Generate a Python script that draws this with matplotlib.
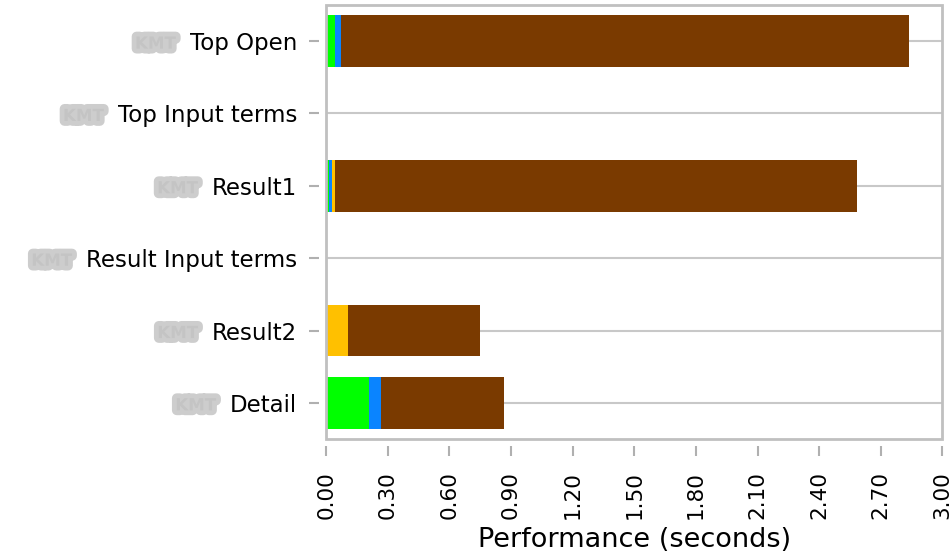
import numpy as np
import matplotlib
matplotlib.use("Agg")
import matplotlib.pyplot as plt
import matplotlib.patheffects as pe

categories = ["Top Open", "Top Input terms", "Result1", "Result Input terms", "Result2", "Detail"]
prefix = "KMT"
green = [0.042, 0, 0.013, 0, 0, 0.209]
blue = [0.030, 0, 0.013, 0, 0, 0.056]
orange = [0, 0, 0.015, 0, 0.106, 0]
brown = [2.765, 0, 2.543, 0, 0.643, 0.602]
xticks = [0.0, 0.3, 0.6, 0.9, 1.2, 1.5, 1.8, 2.1, 2.4, 2.7, 3.0]

fig = plt.figure(figsize=(9.51, 5.55), dpi=100)
ax = fig.add_axes([0.343, 0.209, 0.648, 0.782])

# move ticks off the frame first (this resets tick styling)
for side in ["left", "bottom"]:
    ax.spines[side].set_position(("outward", 5))
for s in ax.spines.values():
    s.set_visible(False)

y = np.arange(len(categories))[::-1]
left = np.zeros(len(categories))
for vals, col in [(green, "#00ff00"), (blue, "#0a84ff"), (orange, "#ffc000"), (brown, "#7a3a00")]:
    vals = np.array(vals)
    ax.barh(y, vals, left=left, height=0.71, color=col, linewidth=0, zorder=3)
    left += vals

ax.set_xlim(0, 3.0)
ax.set_ylim(-0.5, 5.5)
ax.set_xticks(xticks)
ax.set_xticklabels([f"{v:.2f}" for v in xticks], rotation=90, fontsize=15.5)
ax.set_yticks(y)
ax.set_yticklabels(categories, fontsize=16.5)
ax.grid(axis="y", color="#c8c8c8", linewidth=1.5, zorder=1)
ax.set_xlabel("Performance (seconds)", fontsize=19.5, labelpad=6)

ax.add_patch(plt.Rectangle((0, 0), 1, 1, transform=ax.transAxes, fill=False,
                           edgecolor="#c0c0c0", linewidth=2, zorder=5, clip_on=False))
ax.tick_params(axis="both", color="#b0b0b0", width=1.5, length=7)
ax.tick_params(axis="x", pad=11)
ax.tick_params(axis="y", pad=9)

# blurred prefix next to each label
fig.canvas.draw()
for lab in ax.get_yticklabels():
    ax.annotate(prefix, xy=(0, 0.5), xycoords=lab, xytext=(-10, 0), textcoords="offset points",
                ha="right", va="center", fontsize=12, color="#c4c4c4", fontweight="bold",
                path_effects=[pe.withStroke(linewidth=7, foreground="#cdcdcd")])

fig.savefig("out.png", dpi=100)
